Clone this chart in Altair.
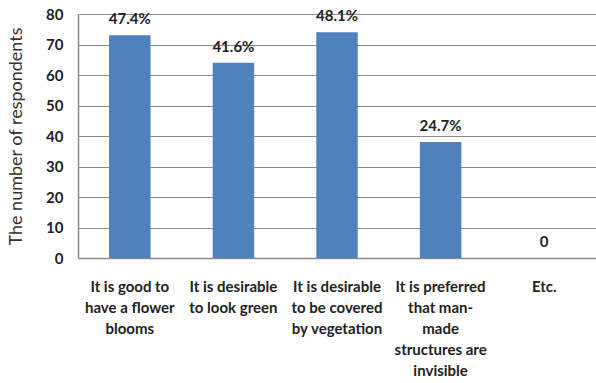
import altair as alt
import pandas as pd

categories = [
    "It is good to\nhave a flower\nblooms",
    "It is desirable\nto look green",
    "It is desirable\nto be covered\nby vegetation",
    "It is preferred\nthat man-\nmade\nstructures are\ninvisible",
    "Etc.",
]
counts = [73, 64, 74, 38, 0]
labels = ["47.4%", "41.6%", "48.1%", "24.7%", "0"]

df = pd.DataFrame({"cat": categories, "count": counts, "label": labels})

FONT = "Lato"
GRAY = "#8c8c8c"

x = alt.X(
    "cat:N",
    sort=categories,
    scale=alt.Scale(paddingInner=0.6, paddingOuter=0.3),
    axis=alt.Axis(
        title=None,
        labelAngle=0,
        labelExpr="split(datum.value, '\\n')",
        labelFont=FONT,
        labelFontWeight="bold",
        labelFontSize=15,
        labelColor="#222222",
        labelLineHeight=21,
        labelPadding=21,
        labelBaseline="top",
        labelLimit=200,
        ticks=False,
        domainColor=GRAY,
        domainWidth=1.5,
        grid=False,
    ),
)

y = alt.Y(
    "count:Q",
    scale=alt.Scale(domain=[0, 80], nice=False),
    axis=alt.Axis(
        title="The number of respondents",
        titleFont=FONT,
        titleFontWeight="normal",
        titleFontSize=18,
        titleColor="#333333",
        titlePadding=20,
        values=[0, 10, 20, 30, 40, 50, 60, 70, 80],
        labelOverlap=False,
        labelFont=FONT,
        labelFontWeight="bold",
        labelFontSize=15,
        labelColor="#222222",
        labelPadding=15,
        ticks=False,
        domainColor=GRAY,
        domainWidth=1.5,
        gridColor=GRAY,
        gridWidth=1.2,
    ),
)

base = alt.Chart(df).encode(x=x, y=y)

bars = base.mark_bar(color="#4F81BD")

text = base.mark_text(
    dy=-16, font=FONT, fontWeight="bold", fontSize=15, color="#222222"
).encode(text="label:N")

chart = (
    alt.layer(bars, text)
    .properties(
        width=518,
        height=244,
        autosize=alt.AutoSizeParams(type="none"),
        padding={"left": 78, "top": 14, "right": 0, "bottom": 125},
    )
    .configure_view(stroke=None)
    .configure(background="white")
)

chart.save("out.html", embed_options={"renderer": "svg", "actions": False})
